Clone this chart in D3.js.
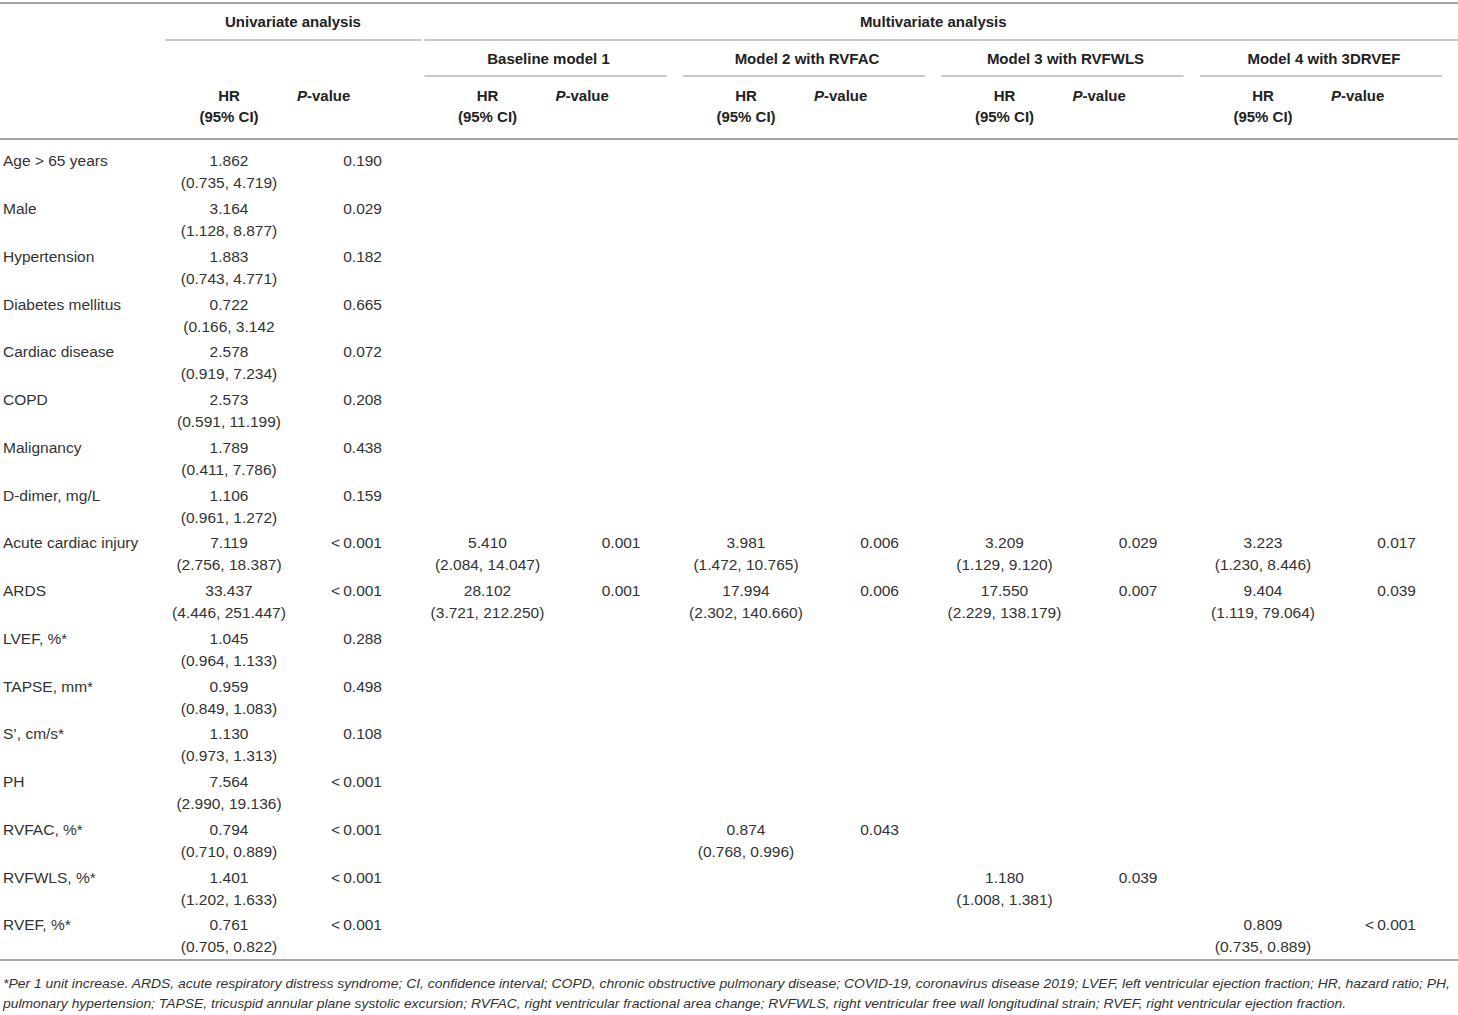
<!DOCTYPE html>
<html>
<head>
<meta charset="utf-8">
<script src="https://cdn.jsdelivr.net/npm/d3@7"></script>
<style>
  body { margin: 0; background: #fff; }
  svg { display: block; font-family: "Liberation Sans", Arial, sans-serif; }
  .hd { font-weight: bold; fill: #222; font-size: 15px; }
  .cell { fill: #333; font-size: 15.5px; }
  .note { fill: #333; font-size: 13px; font-style: italic; }
  .rule { stroke: #a8a8a8; stroke-width: 2; }
  .sub { stroke: #b4b4b4; stroke-width: 1.6; }
</style>
</head>
<body>
<svg id="chart" width="1458" height="1015"></svg>
<script>
  // row labels
  const variables = ["Age > 65 years", "Male", "Hypertension", "Diabetes mellitus", "Cardiac disease",
    "COPD", "Malignancy", "D-dimer, mg/L", "Acute cardiac injury", "ARDS", "LVEF, %*",
    "TAPSE, mm*", "S\u2019, cm/s*", "PH", "RVFAC, %*", "RVFWLS, %*", "RVEF, %*"]

  // univariate analysis
  const uni_hr = ["1.862", "3.164", "1.883", "0.722", "2.578", "2.573", "1.789", "1.106", "7.119",
    "33.437", "1.045", "0.959", "1.130", "7.564", "0.794", "1.401", "0.761"]
  const uni_ci = ["(0.735, 4.719)", "(1.128, 8.877)", "(0.743, 4.771)", "(0.166, 3.142", "(0.919, 7.234)",
    "(0.591, 11.199)", "(0.411, 7.786)", "(0.961, 1.272)", "(2.756, 18.387)", "(4.446, 251.447)",
    "(0.964, 1.133)", "(0.849, 1.083)", "(0.973, 1.313)", "(2.990, 19.136)", "(0.710, 0.889)",
    "(1.202, 1.633)", "(0.705, 0.822)"]
  const uni_p = ["0.190", "0.029", "0.182", "0.665", "0.072", "0.208", "0.438", "0.159", "<0.001",
    "<0.001", "0.288", "0.498", "0.108", "<0.001", "<0.001", "<0.001", "<0.001"]

  // multivariate models
  const model_names = ["Baseline model 1", "Model 2 with RVFAC", "Model 3 with RVFWLS", "Model 4 with 3DRVEF"]

  const m1_rows = ["Acute cardiac injury", "ARDS"]
  const m1_hr = ["5.410", "28.102"]
  const m1_ci = ["(2.084, 14.047)", "(3.721, 212.250)"]
  const m1_p = ["0.001", "0.001"]

  const m2_rows = ["Acute cardiac injury", "ARDS", "RVFAC, %*"]
  const m2_hr = ["3.981", "17.994", "0.874"]
  const m2_ci = ["(1.472, 10.765)", "(2.302, 140.660)", "(0.768, 0.996)"]
  const m2_p = ["0.006", "0.006", "0.043"]

  const m3_rows = ["Acute cardiac injury", "ARDS", "RVFWLS, %*"]
  const m3_hr = ["3.209", "17.550", "1.180"]
  const m3_ci = ["(1.129, 9.120)", "(2.229, 138.179)", "(1.008, 1.381)"]
  const m3_p = ["0.029", "0.007", "0.039"]

  const m4_rows = ["Acute cardiac injury", "ARDS", "RVEF, %*"]
  const m4_hr = ["3.223", "9.404", "0.809"]
  const m4_ci = ["(1.230, 8.446)", "(1.119, 79.064)", "(0.735, 0.889)"]
  const m4_p = ["0.017", "0.039", "<0.001"]

  const footnote = [
    "*Per 1 unit increase. ARDS, acute respiratory distress syndrome; CI, confidence interval; COPD, chronic obstructive pulmonary disease; COVID-19, coronavirus disease 2019; LVEF, left ventricular ejection fraction; HR, hazard ratio; PH,",
    "pulmonary hypertension; TAPSE, tricuspid annular plane systolic excursion; RVFAC, right ventricular fractional area change; RVFWLS, right ventricular free wall longitudinal strain; RVEF, right ventricular ejection fraction."
  ]

  function fmt_p(p) {
    return p.replace("<", "<\u2009")
  }

  function make_scales() {
    return {
      // centre of the HR column for each group (0 = univariate, 1..4 = models)
      x: d3.scaleLinear().domain([0, 4]).range([229, 1263]),
      y: d3.scaleLinear().domain([0, variables.length - 1]).range([161, 925])
    }
  }

  function draw_rules(svg, scales) {
    let hline = (x1, x2, y, cls) => svg.append("line")
      .attr("class", cls)
      .attr("x1", x1).attr("x2", x2)
      .attr("y1", y).attr("y2", y)

    hline(0, 1458, 3, "rule")
    hline(0, 1458, 139, "rule")
    hline(0, 1458, 960, "rule")

    hline(scales.x(0) - 64, scales.x(0) + 192, 40, "sub")
    hline(scales.x(1) - 63, 1458, 40, "sub")
    d3.range(1, 5).forEach(g => hline(scales.x(g) - 63, scales.x(g) + 179, 76, "sub"))
  }

  function draw_headers(svg, scales) {
    svg.append("text").attr("class", "hd")
      .attr("x", scales.x(0) + 64).attr("y", 22).attr("dy", "0.35em")
      .attr("text-anchor", "middle").text("Univariate analysis")

    svg.append("text").attr("class", "hd")
      .attr("x", (scales.x(1) - 63 + 1458) / 2 - 8).attr("y", 22).attr("dy", "0.35em")
      .attr("text-anchor", "middle").text("Multivariate analysis")

    svg.selectAll("text.model")
      .data(model_names).enter()
      .append("text")
      .attr("class", "hd model")
      .attr("x", (d, i) => scales.x(i + 1) + 61)
      .attr("y", 59).attr("dy", "0.35em")
      .attr("text-anchor", "middle")
      .text(d => d)

    d3.range(0, 5).forEach(g => {
      let cx = scales.x(g)
      svg.append("text").attr("class", "hd")
        .attr("x", cx).attr("y", 96).attr("dy", "0.35em")
        .attr("text-anchor", "middle").text("HR")
      svg.append("text").attr("class", "hd")
        .attr("x", cx).attr("y", 117).attr("dy", "0.35em")
        .attr("text-anchor", "middle").text("(95% CI)")
      let pv = svg.append("text").attr("class", "hd")
        .attr("x", cx + 68).attr("y", 96).attr("dy", "0.35em")
      pv.append("tspan").attr("font-style", "italic").text("P")
      pv.append("tspan").text("-value")
    })
  }

  function draw_group(svg, scales, g, rows, hr, ci, p) {
    let cx = scales.x(g)
    let cells = rows.map((r, i) => ({ row: variables.indexOf(r), hr: hr[i], ci: ci[i], p: p[i] }))
    let sel = svg.append("g").selectAll("g").data(cells).enter().append("g")

    sel.append("text").attr("class", "cell")
      .attr("x", cx).attr("y", d => scales.y(d.row)).attr("dy", "0.35em")
      .attr("text-anchor", "middle").text(d => d.hr)
    sel.append("text").attr("class", "cell")
      .attr("x", cx).attr("y", d => scales.y(d.row) + 22).attr("dy", "0.35em")
      .attr("text-anchor", "middle").text(d => d.ci)
    sel.append("text").attr("class", "cell")
      .attr("x", cx + 153).attr("y", d => scales.y(d.row)).attr("dy", "0.35em")
      .attr("text-anchor", "end").text(d => fmt_p(d.p))
  }

  function draw_labels(svg, scales) {
    svg.selectAll("text.label")
      .data(variables).enter()
      .append("text")
      .attr("class", "cell label")
      .attr("x", 3)
      .attr("y", (d, i) => scales.y(i)).attr("dy", "0.35em")
      .text(d => d)
  }

  function draw_footnote(svg) {
    let widths = [1447, 1343]
    svg.selectAll("text.note")
      .data(footnote).enter()
      .append("text")
      .attr("class", "note")
      .attr("x", 3)
      .attr("y", (d, i) => 983 + i * 20).attr("dy", "0.35em")
      .attr("textLength", (d, i) => widths[i])
      .attr("lengthAdjust", "spacingAndGlyphs")
      .text(d => d)
  }

  function visualize() {
    let svg = d3.select("#chart")
    let scales = make_scales()
    draw_rules(svg, scales)
    draw_headers(svg, scales)
    draw_labels(svg, scales)
    draw_group(svg, scales, 0, variables, uni_hr, uni_ci, uni_p)
    draw_group(svg, scales, 1, m1_rows, m1_hr, m1_ci, m1_p)
    draw_group(svg, scales, 2, m2_rows, m2_hr, m2_ci, m2_p)
    draw_group(svg, scales, 3, m3_rows, m3_hr, m3_ci, m3_p)
    draw_group(svg, scales, 4, m4_rows, m4_hr, m4_ci, m4_p)
    draw_footnote(svg)
  }

  visualize()
</script>
</body>
</html>
